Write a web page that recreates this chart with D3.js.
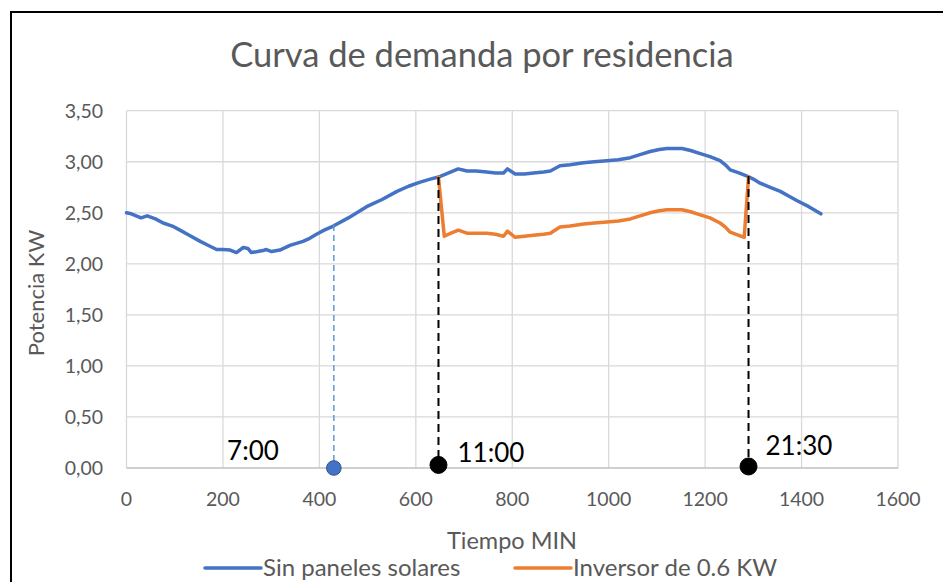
<!DOCTYPE html>
<html>
<head>
    <meta charset="UTF-8">
    <title>Curva de demanda</title>
    <script src="https://d3js.org/d3.v7.min.js"></script>
    <style>
        body { margin: 0; background-color: white; }
        svg text { font-family: Lato, "Open Sans", sans-serif; }
    </style>
</head>
<body>
    <div id="chart"></div>
    <script>
        // minutes of the day
        var blueTimes = [0, 10, 20, 30, 43, 60, 76, 95, 111, 130, 153, 170, 187, 200, 215, 228, 242, 252, 259, 272,
            283, 290, 301, 318, 339, 366, 380, 394, 410, 429, 460, 498, 530, 561, 585, 609, 630, 647, 668, 688,
            706, 725, 747, 765, 782, 790, 806, 825, 844, 865, 879, 899, 920, 948, 970, 996, 1020, 1045, 1065, 1086,
            1105, 1121, 1140, 1152, 1170, 1190, 1210, 1231, 1242, 1252, 1270, 1287, 1300, 1314, 1335, 1356, 1375, 1390, 1415, 1440];
        var blueValues = [2.50, 2.49, 2.47, 2.45, 2.47, 2.44, 2.40, 2.37, 2.33, 2.28, 2.22, 2.18, 2.14, 2.14, 2.135, 2.11, 2.16, 2.15, 2.11, 2.12,
            2.13, 2.14, 2.12, 2.135, 2.18, 2.22, 2.25, 2.29, 2.33, 2.37, 2.45, 2.56, 2.63, 2.71, 2.76, 2.80, 2.83, 2.85, 2.89, 2.93,
            2.91, 2.91, 2.90, 2.89, 2.89, 2.93, 2.88, 2.88, 2.89, 2.90, 2.91, 2.96, 2.97, 2.99, 3.00, 3.01, 3.02, 3.04, 3.07, 3.10,
            3.12, 3.13, 3.13, 3.13, 3.11, 3.08, 3.05, 3.01, 2.97, 2.92, 2.89, 2.86, 2.83, 2.79, 2.75, 2.71, 2.66, 2.62, 2.56, 2.49];

        var orangeTimes = [647, 659, 673, 688, 706, 725, 747, 765, 782, 790, 806, 825, 844, 865, 879, 899, 920, 948, 970, 996,
            1020, 1045, 1065, 1086, 1105, 1121, 1140, 1152, 1170, 1190, 1210, 1231, 1242, 1252, 1281, 1290];
        var orangeValues = [2.85, 2.27, 2.30, 2.33, 2.30, 2.30, 2.30, 2.29, 2.27, 2.32, 2.26, 2.27, 2.28, 2.29, 2.30, 2.36, 2.37, 2.39, 2.40, 2.41,
            2.42, 2.44, 2.47, 2.50, 2.52, 2.53, 2.53, 2.53, 2.51, 2.48, 2.45, 2.40, 2.36, 2.31, 2.26, 2.85];

        var markerTimes = [430, 647, 1290];
        var markerTops = [2.38, 2.85, 2.86];
        var markerDots = [0, 0.03, 0.015];
        var markerLabels = ['7:00', '11:00', '21:30'];

        var xTicks = [0, 200, 400, 600, 800, 1000, 1200, 1400, 1600];
        var yTicks = [0, 0.5, 1, 1.5, 2, 2.5, 3, 3.5];
        var seriesNames = ['Sin paneles solares', 'Inversor de 0.6 KW'];

        var width = 943, height = 582;
        var blue = '#4472C4', orange = '#ED7D31', gray = '#595959';

        var svg = d3.select('#chart').append('svg')
            .attr('width', width)
            .attr('height', height);

        svg.append('rect')
            .attr('x', 11).attr('y', 12)
            .attr('width', 960).attr('height', 600)
            .attr('fill', 'white')
            .attr('stroke', 'black')
            .attr('stroke-width', 2);

        var x = d3.scaleLinear().domain([0, 1600]).range([126.5, 898]);
        var y = d3.scaleLinear().domain([0, 3.5]).range([468, 110.7]);

        // grid
        svg.selectAll('.vgrid').data(xTicks).enter().append('line')
            .attr('x1', function(d) { return x(d); }).attr('x2', function(d) { return x(d); })
            .attr('y1', y(3.5)).attr('y2', y(0))
            .attr('stroke', '#D9D9D9').attr('stroke-width', 1.3);
        svg.selectAll('.hgrid').data(yTicks).enter().append('line')
            .attr('x1', x(0)).attr('x2', x(1600))
            .attr('y1', function(d) { return y(d); }).attr('y2', function(d) { return y(d); })
            .attr('stroke', function(d) { return d === 0 ? '#BFBFBF' : '#D9D9D9'; })
            .attr('stroke-width', 1.3);

        // tick labels
        var fmt = function(d) { return d3.format('.2f')(d).replace('.', ','); };
        svg.selectAll('.ylab').data(yTicks).enter().append('text')
            .attr('x', 103).attr('y', function(d) { return y(d) + 7; })
            .attr('text-anchor', 'end')
            .attr('font-size', 19.5).attr('fill', gray)
            .text(fmt);
        svg.selectAll('.xlab').data(xTicks).enter().append('text')
            .attr('x', function(d) { return x(d); }).attr('y', 506)
            .attr('text-anchor', 'middle')
            .attr('font-size', 19.5).attr('fill', gray)
            .text(function(d) { return d; });

        // titles
        svg.append('text')
            .attr('x', 482).attr('y', 67)
            .attr('text-anchor', 'middle')
            .attr('font-size', 34.5).attr('fill', gray)
            .text('Curva de demanda por residencia');
        svg.append('text')
            .attr('x', 512).attr('y', 549)
            .attr('text-anchor', 'middle')
            .attr('font-size', 23.5).attr('fill', gray)
            .text('Tiempo MIN');
        svg.append('text')
            .attr('transform', 'translate(44,293) rotate(-90)')
            .attr('text-anchor', 'middle')
            .attr('font-size', 22).attr('fill', gray)
            .text('Potencia KW');

        // series
        var line = d3.line()
            .x(function(d) { return x(d[0]); })
            .y(function(d) { return y(d[1]); });

        svg.append('path')
            .datum(d3.zip(blueTimes, blueValues))
            .attr('d', line)
            .attr('fill', 'none').attr('stroke', blue)
            .attr('stroke-width', 3.5).attr('stroke-linejoin', 'round').attr('stroke-linecap', 'round');

        svg.append('path')
            .datum(d3.zip(orangeTimes, orangeValues))
            .attr('d', line)
            .attr('fill', 'none').attr('stroke', orange)
            .attr('stroke-width', 3.5).attr('stroke-linejoin', 'round').attr('stroke-linecap', 'round');

        // markers
        var markers = d3.range(markerTimes.length).map(function(i) {
            return { t: markerTimes[i], top: markerTops[i], dot: markerDots[i], label: markerLabels[i], first: i === 0 };
        });

        svg.selectAll('.drop').data(markers).enter().append('line')
            .attr('x1', function(d) { return x(d.t); }).attr('x2', function(d) { return x(d.t); })
            .attr('y1', function(d) { return y(d.top); }).attr('y2', function(d) { return y(d.dot); })
            .attr('stroke', function(d) { return d.first ? '#5B9BD5' : 'black'; })
            .attr('stroke-width', function(d) { return d.first ? 1.5 : 2; })
            .attr('stroke-dasharray', function(d) { return d.first ? '6,4' : '8,5'; });

        svg.selectAll('.dot').data(markers).enter().append('circle')
            .attr('cx', function(d) { return x(d.t); })
            .attr('cy', function(d) { return y(d.dot); })
            .attr('r', function(d) { return d.first ? 7.3 : 8.5; })
            .attr('fill', function(d) { return d.first ? blue : 'black'; })
            .attr('stroke', function(d) { return d.first ? '#2F528F' : 'black'; })
            .attr('stroke-width', 1);

        var labelDx = [-55, 19, 17];
        var labelY = [460, 462, 455];
        svg.selectAll('.mlab').data(markers).enter().append('text')
            .attr('x', function(d, i) { return x(d.t) + labelDx[i]; })
            .attr('y', function(d, i) { return labelY[i]; })
            .attr('text-anchor', function(d) { return d.first ? 'end' : 'start'; })
            .attr('font-size', 26).attr('fill', 'black')
            .text(function(d) { return d.label; });

        // legend
        var legendX = [205, 515];
        var legendColors = [blue, orange];
        var legend = svg.selectAll('.legend').data(seriesNames).enter().append('g')
            .attr('transform', function(d, i) { return 'translate(' + legendX[i] + ',568)'; });
        legend.append('line')
            .attr('x1', 0).attr('x2', 56)
            .attr('stroke', function(d, i) { return legendColors[i]; })
            .attr('stroke-width', 3.5).attr('stroke-linecap', 'round');
        legend.append('text')
            .attr('x', 58).attr('y', 8)
            .attr('font-size', 24).attr('fill', gray)
            .text(function(d) { return d; });
    </script>
</body>
</html>
